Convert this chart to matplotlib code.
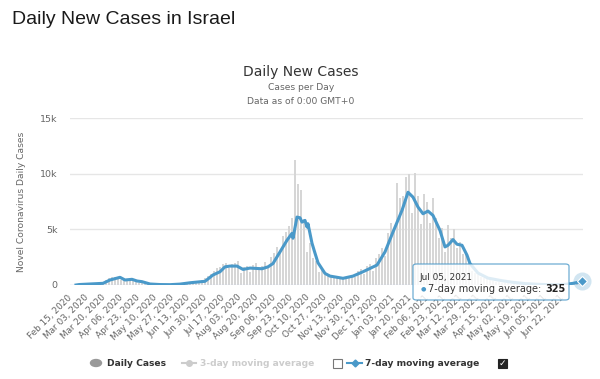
import matplotlib
matplotlib.use("Agg")
import matplotlib.pyplot as plt
from matplotlib.patches import FancyBboxPatch, Circle, Rectangle
from matplotlib.lines import Line2D

# day offsets from Feb 15, 2020
avg_days = [0, 3, 27, 34, 44, 49, 56, 61, 66, 74, 84, 94, 104, 114, 124, 129,
            137, 144, 149, 154, 161, 167, 174, 186, 192, 197, 204, 211, 216,
            217, 221, 224, 226, 229, 231, 232, 236, 239, 242, 249, 254, 267,
            277, 287, 301, 309, 317, 326, 332, 337, 342, 347, 352, 357, 364,
            369, 372, 377, 381, 386, 391, 394, 402, 412, 425, 436, 450, 465,
            480, 490, 497, 502, 506]
avg_values = [0, 40, 150, 450, 690, 450, 510, 360, 300, 90, 40, 30, 80, 200,
              290, 330, 900, 1190, 1630, 1700, 1700, 1400, 1520, 1460, 1630,
              1930, 2970, 4020, 4640, 4200, 6100, 6040, 5650, 5800, 5210, 5500,
              3750, 2860, 2000, 1040, 800, 600, 800, 1190, 1790, 2970, 4760,
              6700, 8330, 7890, 7000, 6400, 6640, 6250, 4900, 3420, 3570, 4080,
              3660, 3570, 2680, 1930, 1070, 620, 400, 250, 120, 50, 20, 60,
              150, 240, 325]

# daily cases, read every third day from Feb 15, 2020
daily_step = 3
daily_cases = [
    0, 0, 1, 5, 15, 30, 60, 100, 180, 300, 450, 600, 700, 750, 600, 450,
    550, 500, 430, 350, 300, 220, 180, 120, 80, 60, 40, 30, 25, 20, 30, 50,
    60, 80, 110, 120, 150, 200, 250, 300, 350, 400, 480, 600, 800, 1000,
    1300, 1500, 1600, 1900, 2000, 1500, 1900, 2000, 2200, 1100, 1600, 1700,
    1200, 1800, 2000, 1400, 1700, 2100, 1600, 2500, 2900, 3400, 3000, 4400,
    4800, 5300, 6000, 11200, 9100, 8500, 5900, 3000, 3800, 2400, 2200, 1200,
    1400, 900, 1000, 700, 850, 600, 750, 700, 500, 850, 900, 700, 1300,
    1400, 1000, 1700, 1900, 1300, 2400, 2800, 3300, 2600, 4700, 5600, 5000,
    9200, 7800, 8000, 9700, 10000, 6500, 10100, 8000, 5500, 8200, 7500, 5600,
    7800, 6000, 4200, 5100, 3000, 5360, 4200, 5060, 3300, 3900, 2800, 3000,
    2000, 1300, 1100, 900, 700, 650, 500, 450, 380, 300, 250, 200, 180, 160,
    130, 110, 100, 80, 60, 50, 40, 40, 35, 30, 20, 15, 15, 12, 10, 15, 25,
    60, 120, 150, 200, 250, 300, 400]

tick_labels = [
    "Feb 15, 2020", "Mar 03, 2020", "Mar 20, 2020", "Apr 06, 2020",
    "Apr 23, 2020", "May 10, 2020", "May 27, 2020", "Jun 13, 2020",
    "Jun 30, 2020", "Jul 17, 2020", "Aug 03, 2020", "Aug 20, 2020",
    "Sep 06, 2020", "Sep 23, 2020", "Oct 10, 2020", "Oct 27, 2020",
    "Nov 13, 2020", "Nov 30, 2020", "Dec 17, 2020", "Jan 03, 2021",
    "Jan 20, 2021", "Feb 06, 2021", "Feb 23, 2021", "Mar 12, 2021",
    "Mar 29, 2021", "Apr 15, 2021", "May 02, 2021", "May 19, 2021",
    "Jun 05, 2021", "Jun 22, 2021"]
tick_step = 17
y_ticks = [0, 5000, 10000, 15000]
y_tick_labels = ["0", "5k", "10k", "15k"]

BLUE = "#4a99c9"
GREY = "#666666"
W, H = 600, 379


def fx(px):
    return px / W


def fy(py):
    return 1 - py / H


fig = plt.figure(figsize=(6, 3.79), dpi=100)
fig.text(fx(12), fy(19), "Daily New Cases in Israel", family="Liberation Sans",
         fontsize=14, color="#1a1a1a", va="center", ha="left")
fig.text(fx(301), fy(72), "Daily New Cases", fontsize=10, color="#333333",
         ha="center", va="center")
fig.text(fx(301), fy(88), "Cases per Day", fontsize=6.6, color=GREY,
         ha="center", va="center")
fig.text(fx(301), fy(101), "Data as of 0:00 GMT+0", fontsize=6.6, color=GREY,
         ha="center", va="center")

ax = fig.add_axes([fx(70), fy(285), (583 - 70) / W, (285 - 118) / H])
bar_days = [i * daily_step for i in range(len(daily_cases))]
ax.bar(bar_days, daily_cases, width=1.5, color="#d6d6d6", zorder=1)
ax.plot(avg_days, avg_values, color=BLUE, lw=2.2, zorder=3,
        solid_joinstyle="round")

ax.set_xlim(-6, 507)
ax.set_ylim(0, 15000)
for s in ax.spines.values():
    s.set_visible(False)
ax.axhline(0, color="#ccd6eb", lw=1, zorder=2)
for v in y_ticks[1:]:
    ax.axhline(v, color="#e6e6e6", lw=1, zorder=0)
ax.set_yticks(y_ticks)
ax.set_yticklabels(y_tick_labels, fontsize=6.8, color=GREY)
ax.tick_params(axis="y", length=0, pad=9)
ax.set_xticks([])
for i, lab in enumerate(tick_labels):
    ax.annotate(lab, xy=(i * tick_step, 0), xycoords=("data", "axes fraction"),
                xytext=(-4, -8), textcoords="offset points", rotation=45,
                rotation_mode="anchor", ha="right", va="center",
                fontsize=6.4, color=GREY)
ax.set_ylabel("Novel Coronavirus Daily Cases", fontsize=6.6, color=GREY,
              labelpad=10)

# last point marker with halo
ax.plot(avg_days[-1], avg_values[-1], "o", ms=13, color=BLUE, alpha=0.25,
        zorder=4, clip_on=False, mec="none")
ax.plot(avg_days[-1], avg_values[-1], "D", ms=5.5, color=BLUE, zorder=5,
        clip_on=False, mec="white", mew=0.8)

# tooltip
for fc, ec, a in [("white", "none", 0.82), ("none", BLUE, 0.8)]:
    fig.patches.append(FancyBboxPatch(
        (fx(413), fy(300)), fx(569 - 413), (300 - 264) / H,
        boxstyle="round,pad=0,rounding_size=0.006", transform=fig.transFigure,
        facecolor=fc, edgecolor=ec, lw=0.9, alpha=a))
fig.text(fx(419), fy(277), "Jul 05, 2021", fontsize=6.4, color="#333333",
         va="center", ha="left")
fig.text(fx(421), fy(289), "\u25CF", fontsize=4.5, color=BLUE, va="center",
         ha="left")
tip_txt = fig.text(fx(428), fy(289), "7-day moving average:", fontsize=7,
                   color="#333333", va="center", ha="left")
fig.texts.append(plt.Annotation(
    "325", xy=(1, 0.5), xycoords=tip_txt, xytext=(3, 0),
    textcoords="offset points", fontsize=7, color="#222222",
    fontweight="bold", va="center", ha="left"))
fig.texts[-1].set_figure(fig)

# legend
ly = fy(363)
fig.patches.append(Circle((fx(96), ly), 5.5 / W, transform=fig.transFigure,
                          color="#999999"))
fig.text(fx(107), ly, "Daily Cases", fontsize=6.6, fontweight="bold",
         color="#333333", va="center", ha="left")
fig.lines.append(Line2D([fx(182), fx(196)], [ly, ly], color="#cccccc", lw=1.5,
                        transform=fig.transFigure))
fig.lines.append(Line2D([fx(189)], [ly], marker="o", ms=4, color="#cccccc",
                        transform=fig.transFigure))
fig.text(fx(200), ly, "3-day moving average", fontsize=6.6, fontweight="bold",
         color="#cccccc", va="center", ha="left")
fig.patches.append(Rectangle((fx(333), fy(368)), 9 / W, 9 / H,
                             transform=fig.transFigure, facecolor="white",
                             edgecolor="#777777", lw=0.8))
fig.lines.append(Line2D([fx(347), fx(362)], [ly, ly], color=BLUE, lw=1.5,
                        transform=fig.transFigure))
fig.lines.append(Line2D([fx(354.5)], [ly], marker="D", ms=3.5, color=BLUE,
                        transform=fig.transFigure))
fig.text(fx(365), ly, "7-day moving average", fontsize=6.6, fontweight="bold",
         color="#333333", va="center", ha="left")
fig.patches.append(Rectangle((fx(498), fy(368)), 9 / W, 9 / H,
                             transform=fig.transFigure, facecolor="#222222",
                             edgecolor="#222222", lw=0.8))
fig.text(fx(502.5), fy(363.5), "\u2713", fontsize=6.5, color="white",
         fontweight="bold", ha="center", va="center")

fig.savefig("out.png", dpi=100)
